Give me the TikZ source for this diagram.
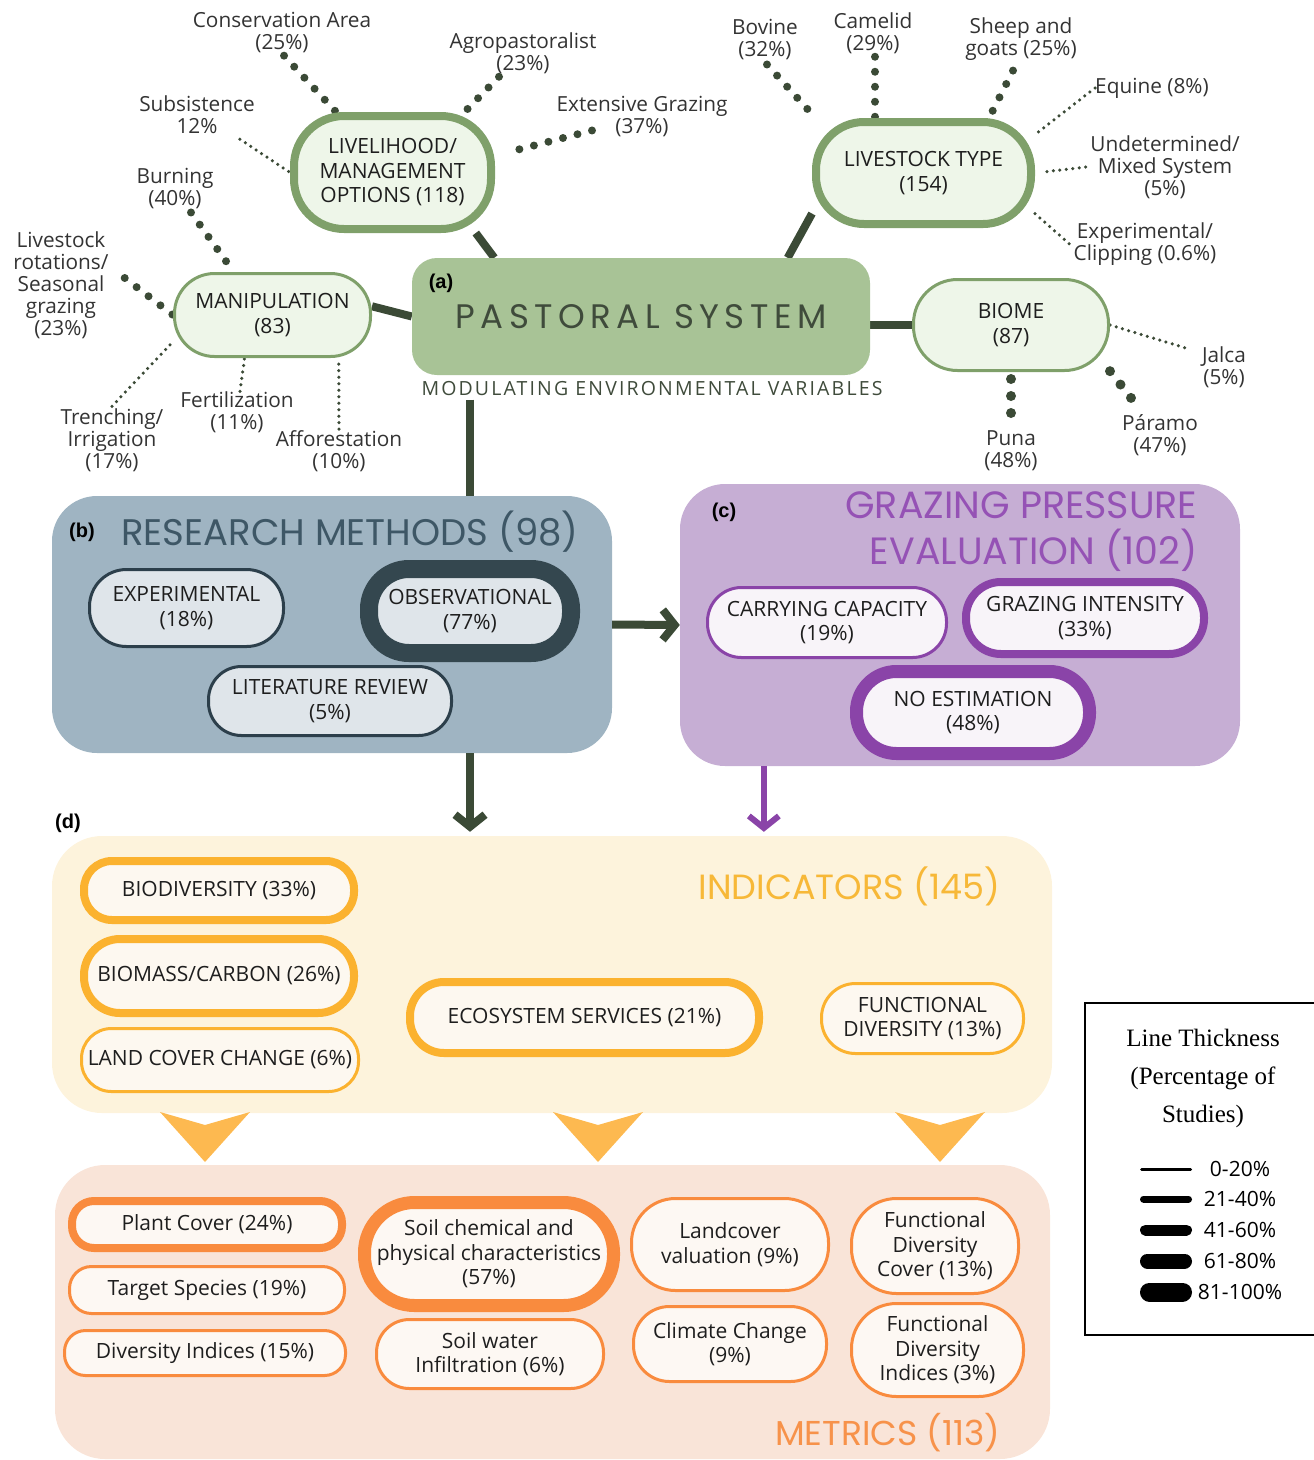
\documentclass[tikz,border=0pt]{standalone}
\usepackage{fontspec}
\setmainfont{Open Sans}
\newfontfamily\titlefont{Poppins}
\newfontfamily\legendfont{Liberation Serif}
\newfontfamily\tagfont{Liberation Sans}
\usepackage{xcolor}
\definecolor{inkdark}{HTML}{3B4A36}
\definecolor{inktext}{HTML}{1E1E1E}
\definecolor{leaftext}{HTML}{333333}
\definecolor{pastgreen}{HTML}{A8C396}
\definecolor{pasttext}{HTML}{3F4B3B}
\definecolor{greenedge}{HTML}{7FA06A}
\definecolor{greenfill}{HTML}{EEF6E9}
\definecolor{bluepanel}{HTML}{9FB4C2}
\definecolor{bluetitle}{HTML}{3E5766}
\definecolor{blueedge}{HTML}{2C3F4B}
\definecolor{bluethick}{HTML}{34474F}
\definecolor{bluefill}{HTML}{DFE5EA}
\definecolor{purplepanel}{HTML}{C6AED4}
\definecolor{purpletitle}{HTML}{9552B5}
\definecolor{purpleedge}{HTML}{8A44A8}
\definecolor{purplefill}{HTML}{F8F4F9}
\definecolor{yellowpanel}{HTML}{FDF3DC}
\definecolor{yellowtitle}{HTML}{F7B838}
\definecolor{yellowedge}{HTML}{FBB22F}
\definecolor{yellowfill}{HTML}{FDF8F0}
\definecolor{trifill}{HTML}{FDB950}
\definecolor{orangepanel}{HTML}{F9E4D8}
\definecolor{orangetitle}{HTML}{F7924A}
\definecolor{orangeedge}{HTML}{F98B3E}
\definecolor{orangefill}{HTML}{FDF8F3}
\usepackage{tikz}
\usetikzlibrary{positioning, arrows.meta, calc, backgrounds}

\tikzset{
  pillbase/.style={rectangle, align=center, inner sep=0pt, text=inktext, font=\fontsize{21}{24.5}\selectfont},
  greenpill/.style={pillbase, draw=greenedge, fill=greenfill},
  bluepill/.style={pillbase, draw=blueedge, fill=bluefill},
  purplepill/.style={pillbase, draw=purpleedge, fill=purplefill},
  yellowpill/.style={pillbase, draw=yellowedge, fill=yellowfill},
  orangepill/.style={pillbase, draw=orangeedge, fill=orangefill},
  panel/.style={rectangle, inner sep=0pt, rounded corners=45pt},
  paneltag/.style={font=\tagfont\bfseries\fontsize{20}{24}\selectfont, text=black},
  paneltitle/.style={font=\titlefont\fontsize{#1}{46}\selectfont},
  leaf/.style={align=center, text=leaftext, font=\fontsize{20.8}{22}\selectfont, inner sep=0pt},
  dotsA/.style={draw=inkdark, line width=3.5pt, line cap=round, dash pattern=on 0pt off 6.5pt},
  dotsB/.style={draw=inkdark, line width=8pt, line cap=round, dash pattern=on 0pt off 15pt},
  dotsC/.style={draw=inkdark, line width=10pt, line cap=round, dash pattern=on 0pt off 17pt},
  trunk/.style={draw=inkdark, line width=8pt},
  flow/.style={draw=inkdark, line width=8pt, -{Straight Barb[length=12pt, width=30pt]}},
}

\begin{document}
\begin{tikzpicture}[x=1pt, y=-1pt]
  \useasboundingbox (0,0) rectangle (1314,1460);

  % (a) pastoral system
  \node[panel, fill=pastgreen, minimum width=458pt, minimum height=117pt, rounded corners=25pt,
        text=pasttext, font=\titlefont\fontsize{34}{36}\selectfont\addfontfeature{LetterSpace=16}]
        (pastoral) at (641,316.5) {PASTORAL SYSTEM};
  \node[paneltag] (taga) at (441,283) {(a)};
  \node[text=pasttext, font=\fontsize{19.5}{22}\selectfont\addfontfeature{LetterSpace=11}]
        (modvar) at (652,389) {MODULATING ENVIRONMENTAL VARIABLES};

  \node[greenpill, line width=8pt, minimum width=197pt, minimum height=113pt, rounded corners=50pt]
        (livelihood) at (392.5,172.5) {LIVELIHOOD/\\MANAGEMENT\\OPTIONS (118)};
  \node[greenpill, line width=8pt, minimum width=215pt, minimum height=102pt, rounded corners=48pt]
        (livestock) at (923.5,173) {LIVESTOCK TYPE\\(154)};
  \node[greenpill, line width=3pt, minimum width=196pt, minimum height=83pt, rounded corners=40pt]
        (manipulation) at (272.5,315) {MANIPULATION\\(83)};
  \node[greenpill, line width=3pt, minimum width=195pt, minimum height=91pt, rounded corners=44pt]
        (biome) at (1011,325) {BIOME\\(87)};

  \node[leaf] (cons) at (282,33) {Conservation Area\\(25\%)};
  \node[leaf] (agro) at (523,53) {Agropastoralist\\(23\%)};
  \node[leaf] (ext) at (642,117) {Extensive Grazing\\(37\%)};
  \node[leaf] (subs) at (197,115) {Subsistence\\12\%};
  \node[leaf] (burn) at (175,189) {Burning\\(40\%)};
  \node[leaf] (rot) at (61,285) {Livestock\\rotations/\\Seasonal\\grazing\\(23\%)};
  \node[leaf] (trench) at (112,440) {Trenching/\\Irrigation\\(17\%)};
  \node[leaf] (fert) at (237,412) {Fertilization\\(11\%)};
  \node[leaf] (affo) at (339,451) {Afforestation\\(10\%)};
  \node[leaf] (bov) at (765,40) {Bovine\\(32\%)};
  \node[leaf] (cam) at (873,33) {Camelid\\(29\%)};
  \node[leaf] (sheep) at (1021,39) {Sheep and\\goats (25\%)};
  \node[leaf, anchor=west] (equ) at (1095,88) {Equine (8\%)};
  \node[leaf] (und) at (1165,167) {Undetermined/\\Mixed System\\(5\%)};
  \node[leaf] (expc) at (1145,244) {Experimental/\\Clipping (0.6\%)};
  \node[leaf] (jalca) at (1224,367) {Jalca\\(5\%)};
  \node[leaf] (puna) at (1011,451) {Puna\\(48\%)};
  \node[leaf] (par) at (1160,435) {Páramo\\(47\%)};

  % (b) research methods
  \node[panel, fill=bluepanel, minimum width=560pt, minimum height=257pt] (boxb) at (332,624.5) {};
  \node[paneltag] (tagb) at (82,532) {(b)};
  \node[paneltitle=37, text=bluetitle] (titleb) at (350,532) {RESEARCH METHODS (98)};
  \node[bluepill, line width=3pt, minimum width=194pt, minimum height=77pt, rounded corners=37pt]
        (expt) at (186.5,608) {EXPERIMENTAL\\(18\%)};
  \node[bluepill, draw=bluethick, line width=18pt, minimum width=202pt, minimum height=84pt, rounded corners=40pt]
        (obs) at (470,611) {OBSERVATIONAL\\(77\%)};
  \node[bluepill, line width=3pt, minimum width=243pt, minimum height=69pt, rounded corners=33pt]
        (litrev) at (330,701) {LITERATURE REVIEW\\(5\%)};

  % (c) grazing pressure
  \node[panel, fill=purplepanel, minimum width=560pt, minimum height=282pt] (boxc) at (960,625) {};
  \node[paneltag] (tagc) at (724,512) {(c)};
  \node[paneltitle=38, text=purpletitle, align=right, anchor=east] (titlec) at (1201,532) {GRAZING PRESSURE\\EVALUATION (102)};
  \node[purplepill, line width=3pt, minimum width=239pt, minimum height=70pt, rounded corners=34pt]
        (carry) at (827,622.5) {CARRYING CAPACITY\\(19\%)};
  \node[purplepill, line width=8pt, minimum width=238pt, minimum height=72pt, rounded corners=35pt]
        (grazint) at (1085,618) {GRAZING INTENSITY\\(33\%)};
  \node[purplepill, line width=13pt, minimum width=233pt, minimum height=82pt, rounded corners=40pt]
        (noest) at (973,712.5) {NO ESTIMATION\\(48\%)};

  % (d) indicators and metrics
  \node[paneltag] (tagd) at (68,823) {(d)};
  \node[panel, fill=yellowpanel, minimum width=1000pt, minimum height=277pt, rounded corners=50pt] (boxd) at (552,974.5) {};
  \node[paneltitle=35, text=yellowtitle, anchor=east] (titled) at (1004,886) {INDICATORS (145)};
  \node[yellowpill, line width=8pt, minimum width=270pt, minimum height=59pt, rounded corners=28pt]
        (biodiv) at (219,890.5) {BIODIVERSITY (33\%)};
  \node[yellowpill, line width=8pt, minimum width=270pt, minimum height=74pt, rounded corners=36pt]
        (biomass) at (219,976) {BIOMASS/CARBON (26\%)};
  \node[yellowpill, line width=3pt, minimum width=277pt, minimum height=63pt, rounded corners=30pt]
        (landcov) at (220,1060) {LAND COVER CHANGE (6\%)};
  \node[yellowpill, line width=8pt, minimum width=349pt, minimum height=71pt, rounded corners=34pt]
        (ecoserv) at (584.5,1017.5) {ECOSYSTEM SERVICES (21\%)};
  \node[yellowpill, line width=3pt, minimum width=202pt, minimum height=70pt, rounded corners=34pt]
        (funcdiv) at (922.5,1018.5) {FUNCTIONAL\\DIVERSITY (13\%)};

  \foreach \cx in {205,598,940}{
    \fill[trifill] (\cx-45,1112) -- (\cx,1125) -- (\cx+45,1112) -- (\cx,1162) -- cycle;
  }

  \node[panel, fill=orangepanel, minimum width=995pt, minimum height=294pt, rounded corners=50pt] (boxe) at (552.5,1312) {};
  \node[paneltitle=34.5, text=orangetitle, anchor=east] (titlee) at (1004,1433) {METRICS (113)};
  \node[orangepill, line width=8pt, minimum width=270pt, minimum height=47pt, rounded corners=22pt]
        (plantcov) at (207,1224.5) {Plant Cover (24\%)};
  \node[orangepill, line width=3pt, minimum width=275pt, minimum height=47pt, rounded corners=22pt]
        (target) at (207,1290) {Target Species (19\%)};
  \node[orangepill, line width=3pt, minimum width=281pt, minimum height=45pt, rounded corners=21pt]
        (divind) at (205,1353) {Diversity Indices (15\%)};
  \node[orangepill, line width=13pt, minimum width=249pt, minimum height=103pt, rounded corners=50pt]
        (soilchem) at (489,1254) {Soil chemical and\\physical characteristics\\(57\%)};
  \node[orangepill, line width=3pt, minimum width=227pt, minimum height=69pt, rounded corners=33pt]
        (soilwater) at (490,1354) {Soil water\\Infiltration (6\%)};
  \node[orangepill, line width=3pt, minimum width=197pt, minimum height=92pt, rounded corners=44pt]
        (landval) at (730,1244.5) {Landcover\\valuation (9\%)};
  \node[orangepill, line width=3pt, minimum width=193pt, minimum height=75pt, rounded corners=36pt]
        (climate) at (730,1344) {Climate Change\\(9\%)};
  \node[orangepill, line width=3pt, minimum width=167pt, minimum height=95pt, rounded corners=45pt]
        (fdcover) at (935,1246) {Functional\\Diversity\\Cover (13\%)};
  \node[orangepill, line width=3pt, minimum width=172pt, minimum height=93pt, rounded corners=45pt]
        (fdind) at (937.5,1350) {Functional\\Diversity\\Indices (3\%)};

  % legend
  \node[draw=black, line width=2pt, minimum width=240pt, minimum height=332pt, anchor=north west, inner sep=0pt]
        (legend) at (1084,1002) {};
  \node[font=\legendfont\fontsize{25}{38}\selectfont, align=center] (legtitle) at (1203,1078)
        {Line Thickness\\(Percentage of\\Studies)};
  \foreach \i/\w/\y/\lab in {1/3/1169/0-20\%, 2/7/1199/21-40\%, 3/11/1230/41-60\%, 4/15/1261/61-80\%, 5/19/1292/81-100\%}{
    \draw[line width=\w pt, line cap=round] (1140+\w/2,\y) -- (1192-\w/2,\y);
    \node[font=\fontsize{21}{24}\selectfont] (leg\i) at (1240,\y) {\lab};
  }

  \begin{scope}[on background layer]
    \draw[trunk] (livelihood.-36) -- ($(pastoral.north west)!0.18!(pastoral.north east)$);
    \draw[trunk] (livestock.200) -- ($(pastoral.north west)!0.82!(pastoral.north east)$);
    \draw[trunk] (manipulation.5) -- (pastoral.west);
    \draw[trunk] (pastoral.east |- biome.west) -- (biome.west);
    \draw[trunk] (modvar.south -| obs.center) -- (obs.center |- boxb.north);

    \draw[dotsB, shorten <=3pt] (cons.south) -- (livelihood.133);
    \draw[dotsB] ([xshift=-24pt,yshift=-3pt]agro.south) -- (livelihood.40);
    \draw[dotsB] ([xshift=-50pt,yshift=7pt]ext.south) -- ([xshift=12pt,yshift=20pt]livelihood.east);
    \draw[dotsA] ([xshift=-15pt,yshift=-5pt]subs.south east) -- (livelihood.west);
    \draw[dotsB] ([xshift=16pt,yshift=-3pt]burn.south) -- (manipulation.132);
    \draw[dotsB] ([xshift=16pt,yshift=7pt]rot.east) -- (manipulation.west);
    \draw[dotsA] ([yshift=2pt]trench.north) -- (manipulation.195);
    \draw[dotsA] ([xshift=3pt]fert.north) -- (manipulation.237);
    \draw[dotsA] ([yshift=1pt]affo.north) -- (manipulation.-33);

    \draw[dotsB] ([xshift=2pt,yshift=-4pt]bov.south) -- (livestock.153);
    \draw[dotsB] ([xshift=2pt,yshift=-3pt]cam.south) -- ([xshift=2pt]cam.south |- livestock.north);
    \draw[dotsB] ([xshift=-8pt,yshift=-10pt]sheep.south) -- (livestock.40);
    \draw[dotsA] (equ.west) -- (livestock.19);
    \draw[dotsA, shorten <=12pt] (livestock.east) -- ([xshift=-4pt]und.west);
    \draw[dotsA] (livestock.-20) -- ([xshift=-4pt]expc.west);

    \draw[dotsA] (biome.east) -- ([xshift=-12pt,yshift=-3pt]jalca.north west);
    \draw[dotsC, shorten <=7pt, shorten >=14pt] (biome.south) -- (puna.north);
    \draw[dotsC] (biome.-25) -- ([xshift=10pt,yshift=15pt]par.north west);
  \end{scope}

  \coordinate (pdrop) at ($(boxc.south west)!0.15!(boxc.south east)$);
  \draw[flow] (boxb.east) -- (boxc.west);
  \draw[flow, shorten >=4pt] (obs.center |- boxb.south) -- (obs.center |- boxd.north);
  \draw[flow, draw=purpleedge, line width=6pt, shorten >=4pt] (pdrop) -- (pdrop |- boxd.north);
\end{tikzpicture}
\end{document}
